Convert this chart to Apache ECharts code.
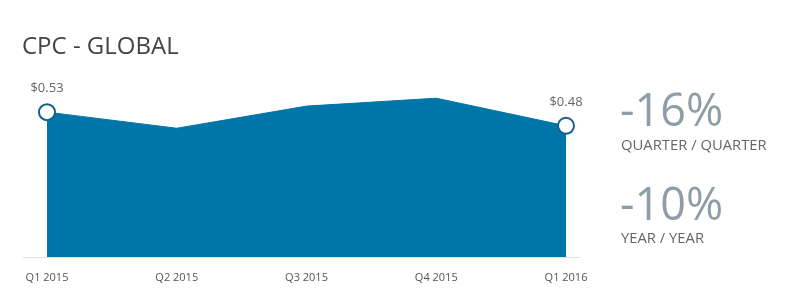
<!DOCTYPE html>
<html><head><meta charset="utf-8">
<script src="https://cdn.jsdelivr.net/npm/echarts@6/dist/echarts.min.js"></script>
<style>html,body{margin:0;padding:0;background:#fff}#c{width:797px;height:301px}</style>
</head><body><div id="c"></div>
<script>
const categories = ['Q1 2015','Q2 2015','Q3 2015','Q4 2015','Q1 2016'];
const cpcValues = [0.53, 0.471, 0.552, 0.581, 0.48];
const kpiValues = ['-16%', '-10%'];
const kpiLabels = ['QUARTER / QUARTER', 'YEAR / YEAR'];
const titleText = 'CPC - GLOBAL';

const FONT = '"Open Sans", sans-serif';
const last = cpcValues.length - 1;
const chart = echarts.init(document.getElementById('c'), null, {renderer:'canvas'});
chart.setOption({
  animation:false,
  title:{text:titleText,left:17,top:30,textStyle:{fontFamily:FONT,fontSize:24,fontWeight:'normal',color:'#444'}},
  grid:[{left:47,right:231,top:93,bottom:44},{left:23,right:217,top:93,bottom:44}],
  xAxis:[{type:'category',data:categories,boundaryGap:false,gridIndex:0,
    axisLine:{show:false},axisTick:{show:false},
    axisLabel:{fontFamily:FONT,fontSize:11,color:'#555',margin:15}},
    {type:'category',data:[''],gridIndex:1,axisLine:{show:true,lineStyle:{color:'#e3e3e3',width:1}},axisTick:{show:false},axisLabel:{show:false}}],
  yAxis:[{type:'value',min:0,max:0.6,gridIndex:0,show:false,splitLine:{show:false}},
    {type:'value',gridIndex:1,show:false,splitLine:{show:false}}],
  series:[{type:'line',data:cpcValues.map((v,i)=>({value:v,symbolSize:(i===0||i===last)?16:0,
      label:{show:(i===0||i===last)}})),
    xAxisIndex:0,yAxisIndex:0,
    symbol:'circle',showAllSymbol:true,
    lineStyle:{color:'#0076a8',width:1},
    areaStyle:{color:'#0076a8',opacity:1},
    itemStyle:{color:'#ffffff',borderColor:'#15608a',borderWidth:2},
    label:{position:'top',distance:8,fontFamily:FONT,fontSize:13,color:'#666',formatter:p=>'$'+p.value.toFixed(2)},
    z:3}],
  graphic:[
    {type:'text',left:620,top:91,style:{text:kpiValues[0],font:'45px '+FONT,fill:'#8e9ea6'}},
    {type:'text',left:621,top:138,style:{text:kpiLabels[0],font:'14.8px '+FONT,fill:'#666'}},
    {type:'text',left:620,top:185,style:{text:kpiValues[1],font:'45px '+FONT,fill:'#8e9ea6'}},
    {type:'text',left:621,top:231,style:{text:kpiLabels[1],font:'14.8px '+FONT,fill:'#666'}}
  ]
});
</script></body></html>
